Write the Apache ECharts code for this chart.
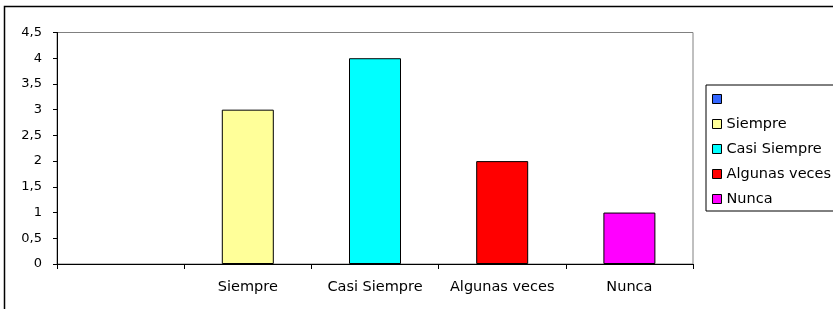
<!DOCTYPE html>
<html>
<head>
    <meta charset="utf-8">
    <title>Frecuencia</title>
    <script type="text/javascript" src="https://cdn.jsdelivr.net/npm/echarts@6/dist/echarts.min.js"></script>
    <style>
        html, body { margin: 0; padding: 0; background: #fff; }
        #main { width: 833px; height: 309px; }
    </style>
</head>
<body>
    <div id="main"></div>
    <script type="text/javascript">
        // categorias y valores
        var categorias = ['', 'Siempre', 'Casi Siempre', 'Algunas veces', 'Nunca'];
        var valores = [0, 3, 4, 2, 1];
        var colores = ['#3366FF', '#FFFF99', '#00FFFF', '#FF0000', '#FF00FF'];
        var yTicks = { min: 0, max: 4.5, step: 0.5 };

        var fuente = 'DejaVu Sans';
        var myChart = echarts.init(document.getElementById('main'));

        // una serie por categoria, apiladas para que cada barra quede centrada
        var series = [];
        var nombres = [];
        for (var i = 0; i < categorias.length; i++) {
            var nombre = categorias[i] === '' ? ' ' : categorias[i];
            nombres.push(nombre);
            var data = [];
            for (var j = 0; j < categorias.length; j++) {
                if (j !== i) {
                    data.push('-');
                } else if (valores[i] === 0) {
                    // barra de altura cero: sin borde visible
                    data.push({ value: valores[i], itemStyle: { borderWidth: 0 } });
                } else {
                    data.push(valores[i]);
                }
            }
            series.push({
                name: nombre,
                type: 'bar',
                stack: 'total',
                barWidth: 52,
                itemStyle: { color: colores[i], borderColor: '#000', borderWidth: 1 },
                emphasis: { disabled: true },
                data: data
            });
        }

        var option = {
            animation: false,
            graphic: [{
                type: 'rect',
                shape: { x: 4.5, y: 6.5, width: 900, height: 400 },
                style: { fill: 'none', stroke: '#000', lineWidth: 1.5 },
                silent: true
            }],
            grid: {
                left: 57, top: 32.5, width: 636, height: 231.5,
                show: true, borderColor: '#808080', borderWidth: 1
            },
            legend: {
                orient: 'vertical',
                left: 706, top: 85,
                padding: [6, 30, 4, 6],
                itemWidth: 9, itemHeight: 9, itemGap: 9, itemTextGap: 6,
                borderColor: '#000', borderWidth: 1,
                icon: 'rect',
                itemStyle: { borderColor: '#000', borderWidth: 1 },
                textStyle: { fontFamily: fuente, fontSize: 14.5, color: '#000', lineHeight: 16 },
                data: nombres
            },
            xAxis: {
                type: 'category',
                data: categorias,
                axisLine: { lineStyle: { color: '#000', width: 1 } },
                axisTick: { show: true, length: 5, lineStyle: { color: '#000' } },
                axisLabel: { margin: 16, fontFamily: fuente, fontSize: 14.5, color: '#000', interval: 0 },
                splitLine: { show: false }
            },
            yAxis: {
                type: 'value',
                min: yTicks.min, max: yTicks.max, interval: yTicks.step,
                axisLine: { show: true, lineStyle: { color: '#000', width: 1 } },
                axisTick: { show: true, length: 4, lineStyle: { color: '#000' } },
                axisLabel: {
                    margin: 15, fontFamily: fuente, fontSize: 13, color: '#000',
                    formatter: function (v) { return String(v).replace('.', ','); }
                },
                splitLine: { show: false }
            },
            series: series
        };
        myChart.setOption(option);
    </script>
</body>
</html>
